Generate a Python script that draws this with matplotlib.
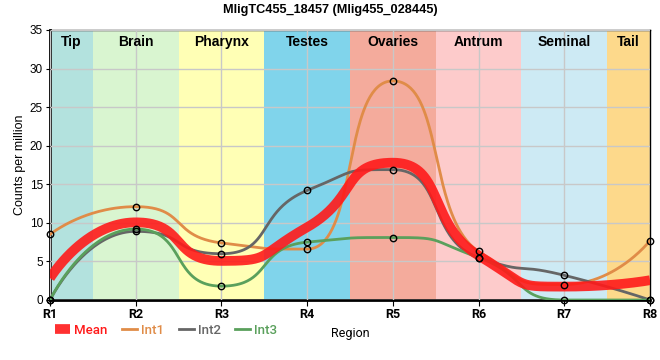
import numpy as np
import matplotlib
matplotlib.use('Agg')
import matplotlib.pyplot as plt

# data
regions = ['R1', 'R2', 'R3', 'R4', 'R5', 'R6', 'R7', 'R8']
int1 = [8.5, 12.1, 7.4, 6.6, 28.4, 6.3, 2.0, 7.7]
int2 = [0.0, 8.9, 6.0, 14.2, 16.9, 5.5, 3.2, 0.0]
int3 = [0.0, 9.2, 1.8, 7.5, 8.1, 5.5, 0.0, 0.0]
mean = list(np.mean([int1, int2, int3], axis=0))

band_names = ['Tip', 'Brain', 'Pharynx', 'Testes', 'Ovaries', 'Antrum', 'Seminal', 'Tail']
band_edges = [0, 0.5, 1.5, 2.5, 3.5, 4.5, 5.5, 6.5, 7]
band_colors = ['#b3e2de', '#d9f5d0', '#ffffb5', '#80d4eb', '#f4ab9c', '#fdcbcb', '#cdeaf4', '#fdd98b']

plt.rcParams['font.family'] = ['Liberation Sans', 'DejaVu Sans']

# smooth bezier spline through the points, flat at local extrema, no overshoot
def spline(x, y, a=0.6, n=80):
  x = np.asarray(x, float); y = np.asarray(y, float)
  h = np.diff(x); s = np.diff(y) / h
  m = np.zeros(len(x))
  for i in range(1, len(x) - 1):
    if s[i-1] * s[i] <= 0:
      continue
    c = (y[i+1] - y[i-1]) / (x[i+1] - x[i-1])
    m[i] = np.sign(c) * min(abs(c), abs(s[i-1]) / a, abs(s[i]) / a)
  xs, ys = [], []
  t = np.linspace(0, 1, n)
  for i in range(len(x) - 1):
    d = a * h[i]
    # end points keep their handle on the point itself
    if i == 0:
      c1 = (x[i], y[i])
    else:
      c1 = (x[i] + d, y[i] + d * m[i])
    if i == len(x) - 2:
      c2 = (x[i+1], y[i+1])
    else:
      c2 = (x[i+1] - d, y[i+1] - d * m[i+1])
    b0 = (1-t)**3; b1 = 3*(1-t)**2*t; b2 = 3*(1-t)*t**2; b3 = t**3
    xs.append(b0*x[i] + b1*c1[0] + b2*c2[0] + b3*x[i+1])
    ys.append(b0*y[i] + b1*c1[1] + b2*c2[1] + b3*y[i+1])
  return np.concatenate(xs), np.concatenate(ys)

fig = plt.figure(figsize=(6.6, 3.6), dpi=100)
ax = fig.add_axes([50/660, 60/360, 600/660, 270/360])

xpos = np.arange(len(regions))
for i in range(len(band_names)):
  ax.axvspan(band_edges[i], band_edges[i+1], color=band_colors[i], lw=0, zorder=0)
  ax.text((band_edges[i] + band_edges[i+1]) / 2, 34.4, band_names[i], ha='center', va='top',
          fontsize=10, fontweight='bold', zorder=5)

ax.grid(True, color='#c8c8c8', lw=1, zorder=1)
ax.set_axisbelow(False)

series = [('Int1', int1, '#e08c48'), ('Int2', int2, '#666666'), ('Int3', int3, '#5aa05c')]
for name, vals, col in series:
  sx, sy = spline(xpos, vals)
  ax.plot(sx, sy, color=col, lw=2.0, label=name, zorder=3)
mx, my = spline(xpos, mean)
ax.plot(mx, my, color='#ff1a1a', lw=7, alpha=0.9, label='Mean', zorder=4, solid_capstyle='butt')
for name, vals, col in series:
  ax.plot(xpos, vals, 'o', ms=4.6, mfc='none', mec='black', mew=1, zorder=6, clip_on=False)

ax.set_xlim(0, 7)
ax.set_ylim(0, 35)
ax.set_xticks(xpos)
ax.set_xticklabels(regions, fontsize=9, fontweight='bold', family=['Roboto', 'DejaVu Sans'])
ax.set_yticks(np.arange(0, 36, 5))
ax.tick_params(axis='y', labelsize=8.5, length=3, pad=2)
ax.tick_params(axis='x', length=4, pad=2)
for sp in ['left', 'bottom']:
  ax.spines[sp].set_linewidth(2)
for sp in ['top', 'right']:
  ax.spines[sp].set_linewidth(1)

ax.set_ylabel('Counts per million', fontsize=9, labelpad=3)
ax.set_xlabel('Region', fontsize=9, labelpad=4, family=['Roboto', 'DejaVu Sans'])
fig.text(0.5, 1 - 10/360, 'MligTC455_18457 (Mlig455_028445)', ha='center', va='center',
         fontsize=9.2, fontweight='bold')

h, l = ax.get_legend_handles_labels()
order = [3, 0, 1, 2]
leg = fig.legend([h[i] for i in order], [l[i] for i in order], loc='center left',
                 bbox_to_anchor=(55/660, 1 - 330/360), ncol=4, frameon=False,
                 borderpad=0, borderaxespad=0,
                 handlelength=1.15, handletextpad=0.3, columnspacing=1.1, labelcolor='linecolor',
                 prop={'family': ['Roboto', 'DejaVu Sans'], 'size': 9.5, 'weight': 'medium'})

fig.savefig('out.png', dpi=100)
